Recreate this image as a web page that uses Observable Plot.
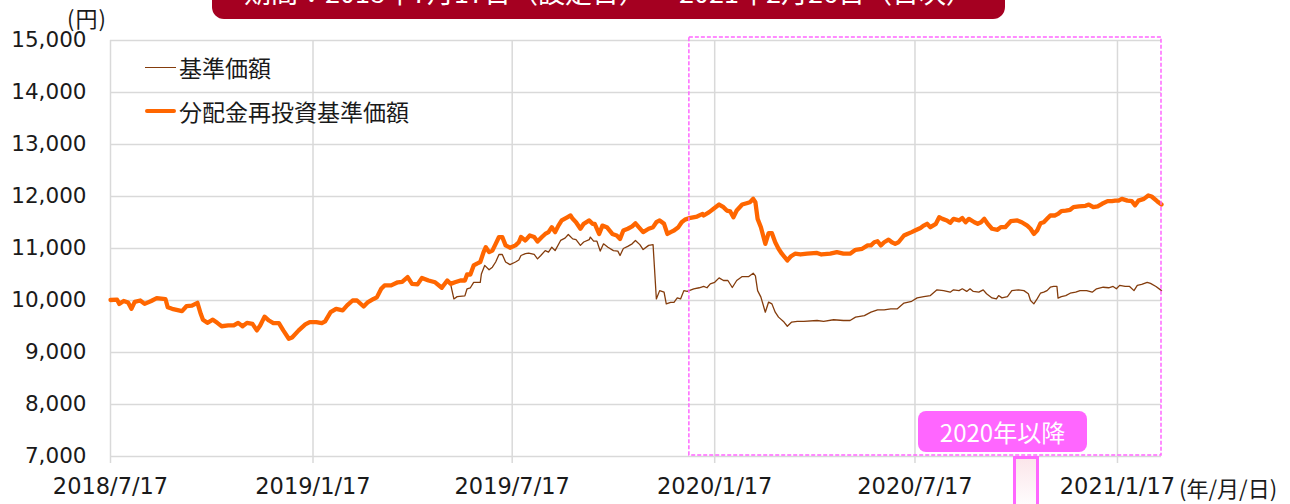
<!DOCTYPE html>
<html><head><meta charset="utf-8">
<script src="https://cdn.jsdelivr.net/npm/d3@7"></script>
<script src="https://cdn.jsdelivr.net/npm/@observablehq/plot@0.6"></script>
<style>
body{margin:0;background:#fff;overflow:hidden}
#wrap{position:relative;width:1290px;height:504px;overflow:hidden;font-family:"Noto Sans CJK JP",sans-serif;color:#1a1a1a}
#wrap svg{position:absolute;left:0;top:0}
.ov{position:absolute;white-space:nowrap}
</style></head><body><div id="wrap"></div>
<script>
// ---- data ----
const title = "期間：2018年7月17日（設定日）～ 2021年2月26日（日次）";
const seriesNames = ["基準価額", "分配金再投資基準価額"];
const yUnit = "(円)";
const xUnit = "(年/月/日)";
const highlightLabel = "2020年以降";
const tickDates = ["2018-07-17","2019-01-17","2019-07-17","2020-01-17","2020-07-17","2021-01-17"];
const yTicks = [7000,8000,9000,10000,11000,12000,13000,14000,15000];
const xDomain = ["2018-07-17","2021-02-26"];
const highlightDates = ["2019-12-25","2021-02-26"];
const highlightValues = [7020,15060];
const firstPayoutDate = "2019-05-25";

const reinvDates = [
"2018-07-17","2018-07-23","2018-07-25","2018-07-29","2018-08-02","2018-08-05","2018-08-08","2018-08-13","2018-08-17","2018-08-23","2018-08-28",
"2018-09-05","2018-09-07","2018-09-11","2018-09-15","2018-09-20","2018-09-24","2018-09-29","2018-10-04","2018-10-07","2018-10-09","2018-10-13",
"2018-10-18","2018-10-22","2018-10-26","2018-11-01","2018-11-06","2018-11-10","2018-11-14","2018-11-18","2018-11-23","2018-11-27","2018-11-30",
"2018-12-04","2018-12-08","2018-12-12","2018-12-17","2018-12-21","2018-12-26","2018-12-29","2019-01-04","2019-01-10","2019-01-14","2019-01-20",
"2019-01-25","2019-01-28","2019-02-02","2019-02-07","2019-02-13","2019-02-17","2019-02-22","2019-02-26","2019-03-04","2019-03-08","2019-03-13",
"2019-03-16","2019-03-20","2019-03-23","2019-03-29","2019-04-04","2019-04-08","2019-04-13","2019-04-17","2019-04-22","2019-04-26","2019-05-02",
"2019-05-08","2019-05-14","2019-05-19","2019-05-22","2019-05-26","2019-05-31","2019-06-04","2019-06-06","2019-06-09","2019-06-12","2019-06-15",
"2019-06-18","2019-06-21","2019-06-23","2019-06-26","2019-06-29","2019-07-02","2019-07-05","2019-07-08","2019-07-11","2019-07-15","2019-07-20",
"2019-07-23","2019-07-25","2019-07-29","2019-08-02","2019-08-06","2019-08-09","2019-08-13","2019-08-16","2019-08-19","2019-08-22","2019-08-25",
"2019-08-28","2019-08-31","2019-09-05","2019-09-08","2019-09-10","2019-09-13","2019-09-17","2019-09-20","2019-09-25","2019-09-28","2019-09-30",
"2019-10-04","2019-10-07","2019-10-11","2019-10-16","2019-10-20","2019-10-23","2019-10-26","2019-10-30","2019-11-03","2019-11-06","2019-11-09",
"2019-11-13","2019-11-18","2019-11-22","2019-11-25","2019-11-28","2019-12-02","2019-12-05","2019-12-08","2019-12-11","2019-12-15","2019-12-18",
"2019-12-21","2019-12-26","2020-01-01","2020-01-06","2020-01-07","2020-01-12","2020-01-16","2020-01-21","2020-01-25","2020-01-28","2020-01-31",
"2020-02-03","2020-02-06","2020-02-11","2020-02-15","2020-02-18","2020-02-21","2020-02-23","2020-02-25","2020-02-28","2020-03-03","2020-03-06",
"2020-03-09","2020-03-12","2020-03-15","2020-03-18","2020-03-23","2020-03-26","2020-03-30","2020-04-04","2020-04-10","2020-04-19","2020-04-23",
"2020-05-01","2020-05-07","2020-05-13","2020-05-19","2020-05-24","2020-05-30","2020-06-04","2020-06-07","2020-06-10","2020-06-13","2020-06-16",
"2020-06-19","2020-06-23","2020-06-26","2020-06-29","2020-07-02","2020-07-07","2020-07-10","2020-07-14","2020-07-17","2020-07-22","2020-07-25",
"2020-07-28","2020-07-31","2020-08-05","2020-08-08","2020-08-11","2020-08-15","2020-08-18","2020-08-21","2020-08-26","2020-08-29","2020-09-01",
"2020-09-04","2020-09-09","2020-09-12","2020-09-15","2020-09-18","2020-09-21","2020-09-25","2020-09-30","2020-10-03","2020-10-07","2020-10-12",
"2020-10-18","2020-10-22","2020-10-27","2020-10-30","2020-11-02","2020-11-05","2020-11-08","2020-11-11","2020-11-14","2020-11-17","2020-11-21",
"2020-11-24","2020-11-27","2020-12-01","2020-12-05","2020-12-08","2020-12-13","2020-12-19","2020-12-22","2020-12-26","2020-12-30","2021-01-03",
"2021-01-08","2021-01-12","2021-01-15","2021-01-18","2021-01-21","2021-01-26","2021-01-30","2021-02-02","2021-02-05","2021-02-10","2021-02-14",
"2021-02-17","2021-02-22","2021-02-26"];
const reinvValues = [
10010,10015,9935,9990,9960,9840,9975,10000,9935,9990,10045,
10025,9870,9840,9820,9795,9890,9900,9955,9745,9630,9570,
9630,9570,9505,9520,9520,9570,9505,9570,9550,9425,9520,
9690,9615,9565,9565,9425,9265,9290,9425,9540,9585,9585,
9565,9600,9775,9840,9810,9905,10000,10000,9885,9970,10030,
10060,10225,10290,10290,10350,10360,10450,10320,10310,10435,10385,
10350,10245,10385,10320,10350,10385,10385,10500,10500,10675,10710,
10740,10930,11025,10930,10960,11090,11220,11220,11060,11015,11060,
11120,11220,11155,11250,11220,11135,11220,11280,11315,11410,11315,
11440,11540,11600,11635,11570,11505,11380,11475,11540,11475,11475,
11280,11440,11410,11280,11250,11185,11345,11380,11425,11485,11410,
11315,11380,11410,11505,11540,11475,11280,11315,11345,11410,11505,
11555,11590,11615,11665,11635,11700,11765,11845,11795,11730,11715,
11600,11730,11845,11870,11890,11955,11890,11570,11410,11090,11295,
11295,11120,10995,10900,10770,10845,10900,10885,10900,10915,10885,
10900,10930,10900,10900,10975,10995,11060,11060,11120,11140,11060,
11120,11170,11120,11090,11120,11250,11280,11315,11345,11395,11440,
11475,11410,11475,11600,11570,11540,11495,11570,11540,11585,11505,
11570,11505,11475,11505,11570,11475,11380,11360,11410,11410,11525,
11540,11505,11440,11380,11280,11345,11485,11505,11570,11635,11635,
11665,11720,11730,11745,11795,11810,11820,11845,11795,11810,11860,
11910,11910,11920,11920,11955,11920,11910,11830,11920,11955,12020,
12000,11910,11845];

// NAV after the first payout (before it, NAV equals the reinvested NAV)
const navDates = [
"2019-05-25","2019-05-28","2019-06-04","2019-06-06","2019-06-09","2019-06-12","2019-06-15","2019-06-18","2019-06-19","2019-06-22","2019-06-26",
"2019-06-29","2019-07-02","2019-07-05","2019-07-08","2019-07-11","2019-07-15","2019-07-20","2019-07-23","2019-07-25","2019-07-29","2019-08-01",
"2019-08-06","2019-08-09","2019-08-12","2019-08-16","2019-08-19","2019-08-22","2019-08-25","2019-08-30","2019-09-03","2019-09-06","2019-09-10",
"2019-09-13","2019-09-17","2019-09-20","2019-09-25","2019-09-26","2019-09-29","2019-10-02","2019-10-05","2019-10-08","2019-10-12","2019-10-17",
"2019-10-21","2019-10-23","2019-10-26","2019-10-30","2019-11-03","2019-11-06","2019-11-10","2019-11-13","2019-11-18","2019-11-22","2019-11-25",
"2019-11-28","2019-12-02","2019-12-04","2019-12-08","2019-12-11","2019-12-14","2019-12-17","2019-12-20","2019-12-23","2019-12-29","2020-01-03",
"2020-01-07","2020-01-10","2020-01-13","2020-01-17","2020-01-21","2020-01-25","2020-01-29","2020-02-02","2020-02-06","2020-02-11","2020-02-17",
"2020-02-21","2020-02-23","2020-02-25","2020-02-28","2020-03-03","2020-03-06","2020-03-09","2020-03-12","2020-03-15","2020-03-20","2020-03-23",
"2020-03-27","2020-04-01","2020-04-07","2020-04-19","2020-04-25","2020-05-04","2020-05-13","2020-05-19","2020-05-24","2020-06-01","2020-06-07",
"2020-06-13","2020-06-19","2020-06-25","2020-07-01","2020-07-07","2020-07-14","2020-07-19","2020-07-25","2020-07-31","2020-08-06","2020-08-12",
"2020-08-18","2020-08-21","2020-08-26","2020-08-29","2020-09-02","2020-09-05","2020-09-08","2020-09-13","2020-09-17","2020-09-20","2020-09-25",
"2020-09-29","2020-10-01","2020-10-04","2020-10-09","2020-10-13","2020-10-19","2020-10-24","2020-10-28","2020-10-30","2020-11-02","2020-11-05",
"2020-11-08","2020-11-11","2020-11-14","2020-11-17","2020-11-20","2020-11-23","2020-11-24","2020-11-27","2020-12-01","2020-12-05","2020-12-10",
"2020-12-14","2020-12-20","2020-12-25","2020-12-29","2021-01-04","2021-01-09","2021-01-13","2021-01-16","2021-01-19","2021-01-24","2021-01-28",
"2021-02-01","2021-02-04","2021-02-08","2021-02-13","2021-02-16","2021-02-21","2021-02-26"];
const navValues = [
10030,10075,10090,10225,10245,10350,10350,10350,10510,10675,10590,
10640,10740,10885,10885,10740,10690,10740,10780,10865,10900,10910,
10885,10800,10865,10960,10930,11025,10960,11155,11200,11270,11185,
11170,11060,11125,11170,11220,11140,11140,10950,11090,11025,10960,
10950,10865,11000,11040,11090,11155,11075,10980,11060,11075,10030,
10190,10160,9935,9965,9965,10050,10030,10190,10175,10225,10245,
10270,10245,10320,10350,10435,10385,10385,10250,10385,10460,10460,
10525,10475,10190,10065,9775,9970,9935,9775,9680,9585,9505,
9585,9600,9600,9615,9600,9630,9615,9615,9680,9710,9775,
9820,9820,9840,9840,9950,9985,10050,10075,10095,10205,10190,
10160,10205,10190,10225,10175,10225,10175,10160,10205,10130,10050,
10030,10095,10050,10075,10190,10205,10190,10130,10000,9935,10030,
10140,10160,10190,10255,10270,10270,10045,10075,10095,10140,10160,
10190,10190,10160,10225,10255,10245,10270,10225,10290,10270,10270,
10190,10290,10310,10350,10330,10270,10190];

// ---- build ----
const P = s => new Date(s + "T00:00:00Z");
const reinv = reinvDates.map((d, i) => ({date: P(d), value: reinvValues[i]}));
const nav = reinv.filter(d => d.date < P(firstPayoutDate))
  .concat(navDates.map((d, i) => ({date: P(d), value: navValues[i]})));
const ticks = tickDates.map(P);
const box = [{x1: P(highlightDates[0]), x2: P(highlightDates[1]), y1: highlightValues[0], y2: highlightValues[1]}];

const chart = Plot.plot({
  width: 1290, height: 504,
  marginLeft: 110, marginRight: 129, marginTop: 40, marginBottom: 48,
  style: {fontFamily: "DejaVu Sans, Verdana, sans-serif", fontSize: "21px", color: "#1a1a1a", background: "transparent", overflow: "visible"},
  x: {type: "utc", domain: xDomain.map(P)},
  y: {domain: [yTicks[0], yTicks[yTicks.length - 1]]},
  marks: [
    Plot.gridY(yTicks, {stroke: "#d9d9d9", strokeOpacity: 1, strokeWidth: 1.5}),
    Plot.gridX(ticks, {stroke: "#d9d9d9", strokeOpacity: 1, strokeWidth: 1.5}),
    Plot.axisY(yTicks, {tickFormat: d3.format(","), tickSize: 0, tickPadding: 24, fontSize: 21.5, fill: "#1a1a1a"}),
    Plot.axisX(ticks, {tickFormat: d3.utcFormat("%Y/%-m/%-d"), tickSize: 7, tickPadding: 15, stroke: "#d9d9d9", strokeWidth: 1.5, fill: "#1a1a1a", fontSize: 22.5}),
    Plot.line(nav, {x: "date", y: "value", stroke: "#843c0c", strokeWidth: 1.3}),
    Plot.line(reinv, {x: "date", y: "value", stroke: "#ff6600", strokeWidth: 4.3, strokeLinejoin: "round", strokeLinecap: "round"}),
    Plot.rect(box, {x1: "x1", x2: "x2", y1: "y1", y2: "y2", fill: "none", stroke: "#ff66ff", strokeWidth: 1.5, strokeDasharray: "4,2"})
  ]
});

const wrap = document.getElementById("wrap");
wrap.appendChild(chart);

function ov(html, css) {
  const d = document.createElement("div");
  d.className = "ov";
  d.style.cssText = css;
  d.innerHTML = html;
  wrap.appendChild(d);
  return d;
}
// title banner (cut off at the top edge, as in the source image)
ov("", "left:212px;top:-22px;width:793px;height:41px;background:#a50021;border-radius:12px;");
ov(title, "left:212px;width:793px;top:-22px;height:27px;line-height:27px;font-size:27px;color:#fff;text-align:center;");
// units
ov(yUnit, "left:67px;top:4px;font-size:22px;line-height:26px;letter-spacing:1px;");
ov(xUnit, "left:1179px;top:474px;font-size:22px;line-height:26px;");
// legend
ov("", "left:145px;top:66.5px;width:31px;height:0;border-top:1.3px solid #843c0c;");
ov(seriesNames[0], "left:179px;top:53px;font-size:23px;line-height:28px;");
ov("", "left:145px;top:109px;width:31px;height:4px;background:#ff6600;border-radius:2px;");
ov(seriesNames[1], "left:179px;top:97px;font-size:23px;line-height:28px;");
// highlight label
ov(highlightLabel, "left:918px;top:411px;width:169px;height:41px;line-height:41px;background:#ff66ff;border-radius:8px;color:#fff;font-size:24px;text-align:center;");
ov("", "left:1013px;top:456px;width:20px;height:50px;border:3px solid #ff66ff;background:linear-gradient(#fbe6ea,#ffffff);box-sizing:content-box;");
</script></body></html>
